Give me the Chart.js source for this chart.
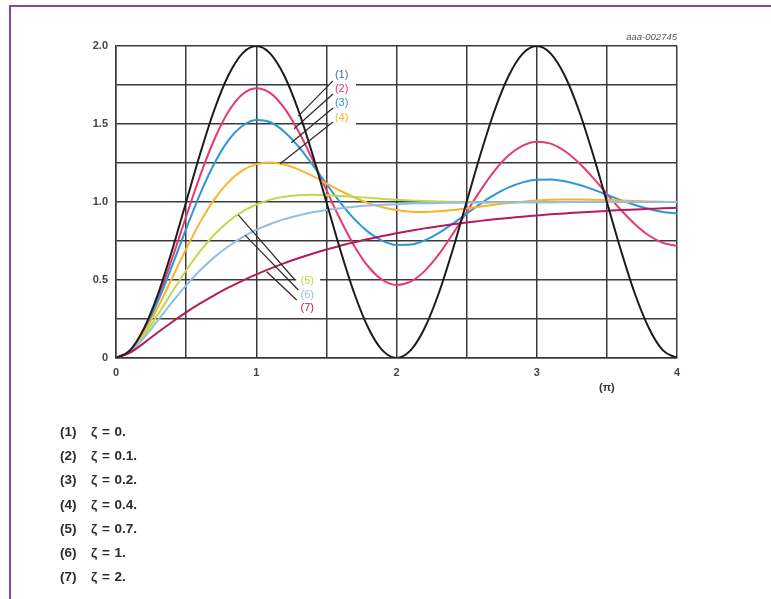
<!DOCTYPE html>
<html>
<head>
<meta charset="utf-8">
<script src="https://cdn.jsdelivr.net/npm/chart.js@4/dist/chart.umd.min.js"></script>
<style>
  html, body { margin: 0; padding: 0; background: #fff; }
  body { width: 771px; height: 599px; position: relative; overflow: hidden; font-family: "Liberation Sans", Arial, sans-serif; }
  #frame { position: absolute; left: 9px; top: 5px; width: 780px; height: 620px; border-left: 2px solid #8246a6; border-top: 2px solid #8246a6; }
  #c { position: absolute; left: 0; top: 0; }
  #legend { position: absolute; left: 60px; top: 420px; font-size: 13.5px; font-weight: bold; color: #2a2a2a; }
  .row { height: 24.2px; line-height: 24.2px; white-space: nowrap; position: relative; }
  .row .n { position: absolute; left: 0; }
  .row .t { position: absolute; left: 31px; word-spacing: 1px; }
</style>
</head>
<body>
<div id="frame"></div>
<canvas id="c" width="771" height="599"></canvas>
<div id="legend"></div>
<script>
// ---- data (x in units of π) ----
const xValues = [0,0.1,0.2,0.3,0.4,0.5,0.6,0.7,0.8,0.9,1,1.1,1.2,1.3,1.4,1.5,1.6,1.7,1.8,1.9,2,2.1,2.2,2.3,2.4,2.5,2.6,2.7,2.8,2.9,3,3.1,3.2,3.3,3.4,3.5,3.6,3.7,3.8,3.9,4];

const zeta0 = [0,0.049,0.191,0.412,0.691,1,1.309,1.588,1.809,1.951,2,1.951,1.809,1.588,1.309,1,0.691,0.412,0.191,0.049,0,0.049,0.191,0.412,0.691,1,1.309,1.588,1.809,1.951,2,1.951,1.809,1.588,1.309,1,0.691,0.412,0.191,0.049,0];
const zeta01 = [0,0.048,0.183,0.388,0.638,0.907,1.169,1.399,1.577,1.689,1.729,1.698,1.602,1.455,1.274,1.077,0.886,0.717,0.585,0.500,0.468,0.489,0.557,0.662,0.793,0.936,1.076,1.201,1.299,1.362,1.387,1.374,1.327,1.251,1.156,1.052,0.949,0.858,0.785,0.738,0.718];
const zeta02 = [0,0.047,0.176,0.366,0.591,0.828,1.052,1.245,1.393,1.487,1.526,1.511,1.451,1.357,1.241,1.116,0.996,0.890,0.807,0.751,0.725,0.727,0.754,0.801,0.860,0.925,0.990,1.047,1.094,1.126,1.143,1.145,1.133,1.111,1.081,1.047,1.012,0.981,0.955,0.936,0.926];
const zeta04 = [0,0.045,0.163,0.327,0.513,0.699,0.871,1.015,1.126,1.201,1.243,1.254,1.240,1.209,1.167,1.119,1.072,1.029,0.993,0.966,0.948,0.938,0.936,0.940,0.948,0.959,0.971,0.983,0.993,1.002,1.009,1.014,1.016,1.016,1.015,1.013,1.010,1.007,1.004,1.001,0.999];
const zeta07 = [0,0.043,0.146,0.280,0.423,0.561,0.685,0.790,0.874,0.938,0.984,1.015,1.034,1.043,1.046,1.044,1.039,1.033,1.027,1.020,1.015,1.010,1.006,1.003,1.001,0.999,0.998,0.998,0.998,0.998,0.999,0.999,0.999,1.000,1.000,1.000,1.000,1.000,1.000,1.000,1.000];
const zeta1 = [0,0.040,0.131,0.243,0.358,0.466,0.562,0.645,0.715,0.773,0.821,0.859,0.890,0.914,0.934,0.949,0.960,0.970,0.977,0.982,0.986,0.990,0.992,0.994,0.995,0.997,0.997,0.998,0.999,0.999,0.999,0.999,1.000,1.000,1.000,1.000,1.000,1.000,1.000,1.000,1.000];
const zeta2 = [0,0.034,0.097,0.165,0.231,0.293,0.350,0.402,0.451,0.495,0.536,0.573,0.608,0.639,0.668,0.695,0.720,0.742,0.763,0.782,0.800,0.816,0.831,0.845,0.857,0.869,0.879,0.889,0.898,0.906,0.914,0.921,0.927,0.933,0.938,0.943,0.948,0.952,0.956,0.960,0.963];

const seriesNumbers = ['(1)','(2)','(3)','(4)','(5)','(6)','(7)'];
const seriesLabels = ['ζ = 0.','ζ = 0.1.','ζ = 0.2.','ζ = 0.4.','ζ = 0.7.','ζ = 1.','ζ = 2.'];
const xTickLabels = ['0','1','2','3','4'];
const yTickLabels = ['0','0.5','1.0','1.5','2.0'];
const xUnitLabel = '(π)';
const figureId = 'aaa-002745';

// ---- styling ----
const seriesValues = [zeta0, zeta01, zeta02, zeta04, zeta07, zeta1, zeta2];
const colors = ['#1c1c1c','#e8396f','#2b97d4','#f9b42e','#c2d84a','#8fbfe8','#b81a5e'];
const labelColors = ['#4f6a8f','#e8396f','#2b97d4','#f9b42e','#c2d84a','#8fbfe8','#b81a5e'];

// annotation placement in data units
const labelBoxes = [
  {x0:1.515, x1:1.711, y0:1.487, y1:1.862},
  {x0:1.285, x1:1.455, y0:0.272, y1:0.551}
];
const labelPos = [
  {x:1.609,y:1.814},{x:1.609,y:1.722},{x:1.609,y:1.633},{x:1.609,y:1.537},
  {x:1.364,y:0.496},{x:1.364,y:0.404},{x:1.364,y:0.319}
];
const leaders = [
  {a:{x:1.547,y:1.776}, b:{x:1.30,y:1.55}},
  {a:{x:1.547,y:1.692}, b:{x:1.27,y:1.47}},
  {a:{x:1.547,y:1.603}, b:{x:1.25,y:1.38}},
  {a:{x:1.547,y:1.513}, b:{x:1.17,y:1.245}},
  {a:{x:0.872,y:0.917}, b:{x:1.276,y:0.500}},
  {a:{x:0.920,y:0.788}, b:{x:1.300,y:0.436}},
  {a:{x:1.075,y:0.553}, b:{x:1.288,y:0.372}}
];

// legend (HTML text)
const legendEl = document.getElementById('legend');
seriesNumbers.forEach((n, i) => {
  const r = document.createElement('div');
  r.className = 'row';
  r.innerHTML = '<span class="n">' + n + '</span><span class="t">' + seriesLabels[i] + '</span>';
  legendEl.appendChild(r);
});

const datasets = seriesValues.map((vals, i) => ({
  label: seriesNumbers[i],
  data: xValues.map((x, j) => ({x: x, y: vals[j]})),
  borderColor: colors[i],
  borderWidth: 2,
  pointRadius: 0,
  fill: false,
  cubicInterpolationMode: 'monotone',
  order: i === 0 ? 0 : 7 - i
}));

const annotatePlugin = {
  id: 'annotate',
  afterDatasetsDraw(chart) {
    const ctx = chart.ctx;
    const xs = chart.scales.x, ys = chart.scales.y;
    const px = v => xs.getPixelForValue(v), py = v => ys.getPixelForValue(v);
    ctx.save();
    ctx.fillStyle = '#ffffff';
    labelBoxes.forEach(b => {
      ctx.fillRect(px(b.x0), py(b.y1), px(b.x1) - px(b.x0), py(b.y0) - py(b.y1));
    });
    ctx.strokeStyle = '#2a2a2a';
    ctx.lineWidth = 1.2;
    leaders.forEach(l => {
      ctx.beginPath();
      ctx.moveTo(px(l.a.x), py(l.a.y));
      ctx.lineTo(px(l.b.x), py(l.b.y));
      ctx.stroke();
    });
    ctx.font = '11px "Liberation Sans", Arial, sans-serif';
    ctx.textAlign = 'center';
    ctx.textBaseline = 'middle';
    labelPos.forEach((p, i) => {
      ctx.fillStyle = labelColors[i];
      ctx.fillText(seriesNumbers[i], px(p.x), py(p.y));
    });
    // unit label and figure id
    ctx.fillStyle = '#333';
    ctx.font = 'bold 11px "Liberation Sans", Arial, sans-serif';
    ctx.fillText(xUnitLabel, px(3.5), chart.chartArea.bottom + 30);
    ctx.font = 'italic 9.5px "Liberation Sans", Arial, sans-serif';
    ctx.textAlign = 'right';
    ctx.fillStyle = '#555';
    ctx.fillText(figureId, chart.chartArea.right, chart.chartArea.top - 9);
    ctx.restore();
  }
};

const gridColor = '#3a3a3a';
const tickFont = { size: 11, weight: 'bold', family: '"Liberation Sans", Arial, sans-serif' };
new Chart(document.getElementById('c'), {
  type: 'line',
  data: { datasets },
  plugins: [annotatePlugin],
  options: {
    responsive: false,
    animation: false,
    devicePixelRatio: 1,
    layout: { padding: { left: 0, top: 46, right: 94, bottom: 211 } },
    plugins: { legend: { display: false }, tooltip: { enabled: false } },
    scales: {
      x: {
        type: 'linear', min: 0, max: 4,
        afterFit: s => { s.height = 30; },
        grid: { color: gridColor, lineWidth: 1.5, drawTicks: false },
        border: { color: gridColor, width: 1.5 },
        ticks: {
          stepSize: 0.5, padding: 8, color: '#444', maxRotation: 0, autoSkip: false,
          font: tickFont,
          callback: v => { const k = xTickLabels.indexOf(String(v)); return k >= 0 ? xTickLabels[k] : ''; }
        }
      },
      y: {
        type: 'linear', min: 0, max: 2,
        afterFit: s => { s.width = 116; },
        grid: { color: gridColor, lineWidth: 1.5, drawTicks: false },
        border: { color: gridColor, width: 1.5 },
        ticks: {
          stepSize: 0.25, padding: 8, color: '#444', autoSkip: false,
          font: tickFont,
          callback: v => { const s = v === 0 ? '0' : v.toFixed(1); return yTickLabels.indexOf(s) >= 0 ? s : ''; }
        }
      }
    }
  }
});
</script>
</body>
</html>
